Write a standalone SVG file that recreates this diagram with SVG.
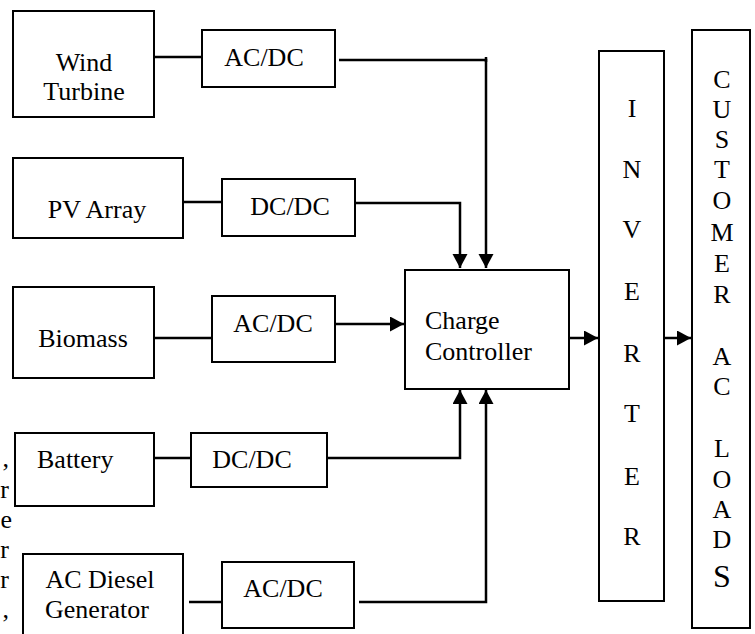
<svg xmlns="http://www.w3.org/2000/svg" width="755" height="634" viewBox="0 0 755 634">
<style>
.box{fill:#fff;stroke:#000;stroke-width:2}
.t{font-family:"Liberation Serif","Times New Roman",serif;font-size:26px;fill:#000}
.c{text-anchor:middle}
.ln{fill:none;stroke:#000;stroke-width:2.5}
</style>
<defs>
<marker id="ah" markerWidth="16" markerHeight="16" refX="14" refY="7.5" orient="auto" markerUnits="userSpaceOnUse">
<path d="M0,0 L14,7.5 L0,15 z" fill="#000"/>
</marker>
</defs>
<rect width="755" height="634" fill="#fff"/>
<g id="stray" class="t" text-anchor="end">
<text x="9" y="467">,</text>
<text x="9" y="498">r</text>
<text x="12" y="528">e</text>
<text x="9" y="558">r</text>
<text x="9" y="588">r</text>
<text x="9" y="618">,</text>
</g>
<g id="connectors">
<path class="ln" d="M154,57 H202"/>
<path class="ln" d="M184,202 H222"/>
<path class="ln" d="M155,338 H212"/>
<path class="ln" d="M155,458 H191"/>
<path class="ln" d="M189,602 H221"/>
<path class="ln" d="M339,60 H486 V268" marker-end="url(#ah)"/>
<path class="ln" d="M486,57 V62"/>
<path class="ln" d="M355,203 H460 V268" marker-end="url(#ah)"/>
<path class="ln" d="M333,324 H404" marker-end="url(#ah)"/>
<path class="ln" d="M323,458 H460 V390" marker-end="url(#ah)"/>
<path class="ln" d="M359,602 H486 V390" marker-end="url(#ah)"/>
<path class="ln" d="M569,338 H598" marker-end="url(#ah)"/>
<path class="ln" d="M664,338 H691" marker-end="url(#ah)"/>
</g>
<g id="wind">
<rect class="box" x="13" y="11" width="141" height="106"/>
<text class="t c" x="84" y="71">Wind</text>
<text class="t c" x="84" y="100">Turbine</text>
</g>
<g id="acdc1">
<rect class="box" x="202" y="30" width="133" height="57"/>
<text class="t c" x="264" y="66">AC/DC</text>
</g>
<g id="pv">
<rect class="box" x="13" y="158" width="170" height="80"/>
<text class="t c" x="97" y="218">PV Array</text>
</g>
<g id="dcdc1">
<rect class="box" x="222" y="179" width="133" height="57"/>
<text class="t c" x="290" y="215">DC/DC</text>
</g>
<g id="biomass">
<rect class="box" x="13" y="287" width="141" height="91"/>
<text class="t c" x="83" y="347">Biomass</text>
</g>
<g id="acdc2">
<rect class="box" x="212" y="296" width="123" height="66"/>
<text class="t c" x="273" y="332">AC/DC</text>
</g>
<g id="battery">
<rect class="box" x="15" y="433" width="139" height="73"/>
<text class="t" x="37" y="468">Battery</text>
</g>
<g id="dcdc2">
<rect class="box" x="191" y="433" width="136" height="54"/>
<text class="t c" x="252" y="468">DC/DC</text>
</g>
<g id="diesel">
<rect class="box" x="23" y="554" width="160" height="90"/>
<text class="t c" x="100" y="588">AC Diesel</text>
<text class="t c" x="97" y="618">Generator</text>
</g>
<g id="acdc3">
<rect class="box" x="222" y="562" width="132" height="66"/>
<text class="t c" x="283" y="597">AC/DC</text>
</g>
<g id="charge">
<rect class="box" x="405" y="270" width="164" height="119"/>
<text class="t" x="425" y="329">Charge</text>
<text class="t" x="425" y="360">Controller</text>
</g>
<g id="inverter">
<rect class="box" x="599" y="51" width="65" height="550"/>
<g class="t c">
<text x="632" y="117">I</text>
<text x="632" y="178">N</text>
<text x="632" y="238">V</text>
<text x="632" y="300">E</text>
<text x="632" y="362">R</text>
<text x="632" y="422">T</text>
<text x="632" y="485">E</text>
<text x="632" y="545">R</text>
</g>
</g>
<g id="customer">
<rect class="box" x="692" y="30" width="58" height="598"/>
<g class="t c">
<text x="722" y="88">C</text>
<text x="722" y="118">U</text>
<text x="722" y="148">S</text>
<text x="722" y="178">T</text>
<text x="722" y="209">O</text>
<text x="722" y="241">M</text>
<text x="722" y="272">E</text>
<text x="722" y="303">R</text>
<text x="722" y="365">A</text>
<text x="722" y="395">C</text>
<text x="722" y="457">L</text>
<text x="722" y="488">O</text>
<text x="722" y="518">A</text>
<text x="722" y="548">D</text>
<text x="722" y="587" style="font-size:32px">S</text>
</g>
</g>
</svg>
